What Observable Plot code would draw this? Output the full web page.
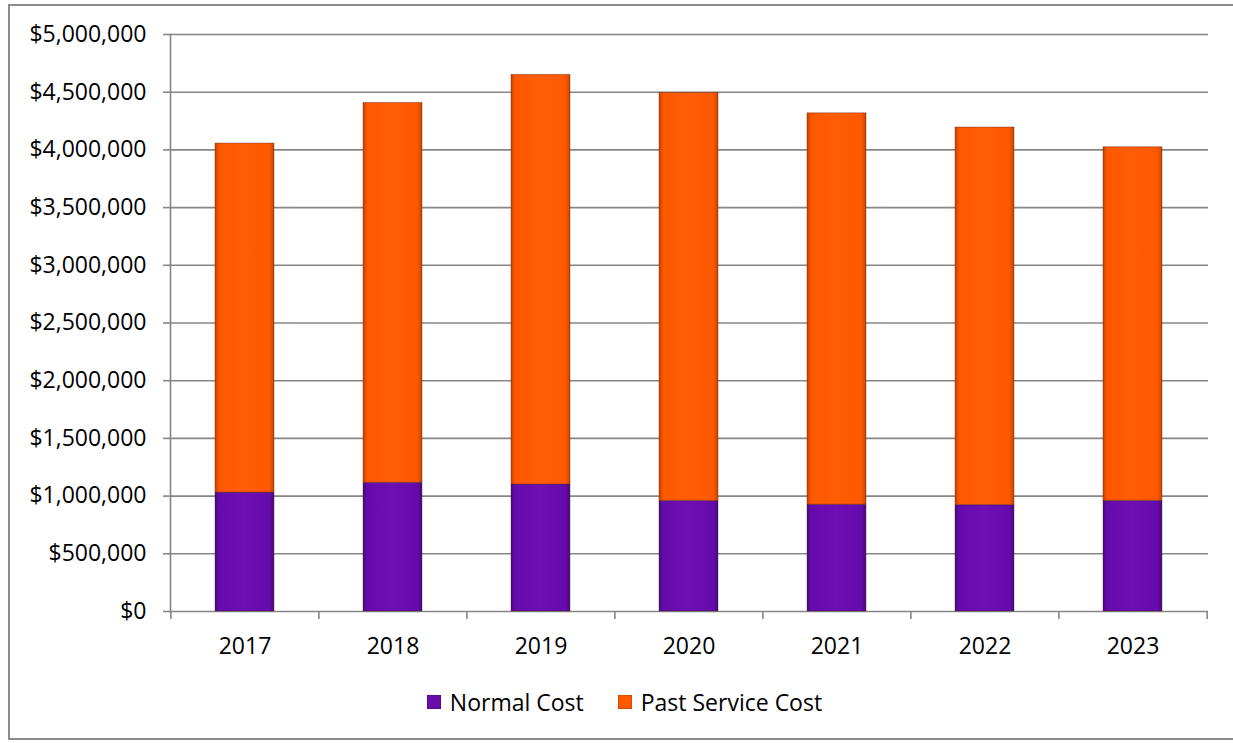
<!DOCTYPE html>
<html>
<head>
<meta charset="utf-8">
<script src="https://cdn.jsdelivr.net/npm/d3@7"></script>
<script src="https://cdn.jsdelivr.net/npm/@observablehq/plot@0.6"></script>
<style>
  html, body { margin: 0; padding: 0; background: #fff; }
  body { width: 1233px; height: 743px; position: relative; overflow: hidden; font-family: "Open Sans", sans-serif; }
  #border { position: absolute; left: 8px; top: 4px; width: 1240px; height: 736px; border: 2px solid #8c8c8c; border-right: none; box-sizing: border-box; }
  #chart { position: absolute; left: 0; top: 0; }
  #legend { position: absolute; top: 686px; left: 0; width: 1233px; display: flex; justify-content: center; align-items: center; font-size: 23px; color: #000; padding-left: 16px; box-sizing: border-box; }
  .item { display: flex; align-items: center; margin: 0 17px; }
  .sw { width: 14px; height: 14px; margin-right: 9px; box-shadow: inset 0 0 2px rgba(0,0,0,0.5); }
</style>
</head>
<body>
<div id="border"></div>
<div id="chart"></div>
<div id="legend"></div>
<script>
const years = ["2017", "2018", "2019", "2020", "2021", "2022", "2023"];
const seriesNames = ["Normal Cost", "Past Service Cost"];
const normalCost = [1030000, 1115000, 1100000, 958000, 925000, 922000, 958000];
const pastServiceCost = [3025000, 3292000, 3550000, 3536000, 3392000, 3272000, 3065000];
const yTicks = [0, 500000, 1000000, 1500000, 2000000, 2500000, 3000000, 3500000, 4000000, 4500000, 5000000];
const seriesColors = ["#6a0cab", "#ff5a00"];

const data = years.flatMap((year, i) => [
  {year, series: seriesNames[0], value: normalCost[i]},
  {year, series: seriesNames[1], value: pastServiceCost[i]}
]);

const W = 1233, ML = 170, MR = 25, MT = 34, MB = 59, H = 670;
const step = (W - ML - MR) / years.length;
const gridColor = "#868686";

const chart = Plot.plot({
  width: W,
  height: H,
  marginLeft: ML,
  marginRight: MR,
  marginTop: MT,
  marginBottom: MB,
  style: {fontFamily: "Open Sans, sans-serif", fontSize: "23px", color: "#000", background: "transparent"},
  x: {domain: years, paddingInner: 0.6, paddingOuter: 0.3, label: null},
  y: {domain: [0, 5000000], label: null},
  color: {domain: seriesNames, range: ["url(#gradP)", "url(#gradO)"]},
  marks: [
    Plot.gridY(yTicks, {stroke: gridColor, strokeOpacity: 1, strokeWidth: 1.6}),
    Plot.barY(data, {x: "year", y: "value", fill: "series", order: seriesNames, stroke: "rgba(60,20,0,0.35)", strokeWidth: 1}),
    Plot.axisY({ticks: yTicks, tickSize: 7, tickPadding: 17, stroke: gridColor, strokeWidth: 1.6, strokeOpacity: 1,
      tickFormat: d => "$" + d3.format(",")(d), fontSize: 23, fill: "#000"}),
    Plot.frame({anchor: "left", stroke: gridColor, strokeWidth: 1.6}),
    Plot.axisX({ticks: years, tickSize: 8, dx: -step / 2, stroke: gridColor, strokeWidth: 1.6, strokeOpacity: 1, tickFormat: () => ""}),
    Plot.axisX({ticks: [years[years.length - 1]], tickSize: 8, dx: step / 2, stroke: gridColor, strokeWidth: 1.6, strokeOpacity: 1, tickFormat: () => ""}),
    Plot.axisX({ticks: years, tickSize: 0, tickPadding: 26, fontSize: 23, fill: "#000"})
  ]
});

// bevel-like gradients
const ns = "http://www.w3.org/2000/svg";
const defs = document.createElementNS(ns, "defs");
function grad(id, stops) {
  const g = document.createElementNS(ns, "linearGradient");
  g.setAttribute("id", id);
  g.setAttribute("x1", "0"); g.setAttribute("x2", "1"); g.setAttribute("y1", "0"); g.setAttribute("y2", "0");
  for (const [o, c] of stops) {
    const s = document.createElementNS(ns, "stop");
    s.setAttribute("offset", o); s.setAttribute("stop-color", c);
    g.appendChild(s);
  }
  defs.appendChild(g);
}
grad("gradP", [[0, "#4c0880"], [0.08, "#650bab"], [0.5, "#6c0fb3"], [0.92, "#650bab"], [1, "#4c0880"]]);
grad("gradO", [[0, "#c94400"], [0.08, "#ff5800"], [0.5, "#ff5d05"], [0.92, "#ff5800"], [1, "#c94400"]]);
chart.insertBefore(defs, chart.firstChild);

document.getElementById("chart").appendChild(chart);

const legend = document.getElementById("legend");
seriesNames.forEach((name, i) => {
  const item = document.createElement("div");
  item.className = "item";
  const sw = document.createElement("div");
  sw.className = "sw";
  sw.style.background = seriesColors[i];
  const label = document.createElement("span");
  label.textContent = name;
  item.appendChild(sw);
  item.appendChild(label);
  legend.appendChild(item);
});
</script>
</body>
</html>
